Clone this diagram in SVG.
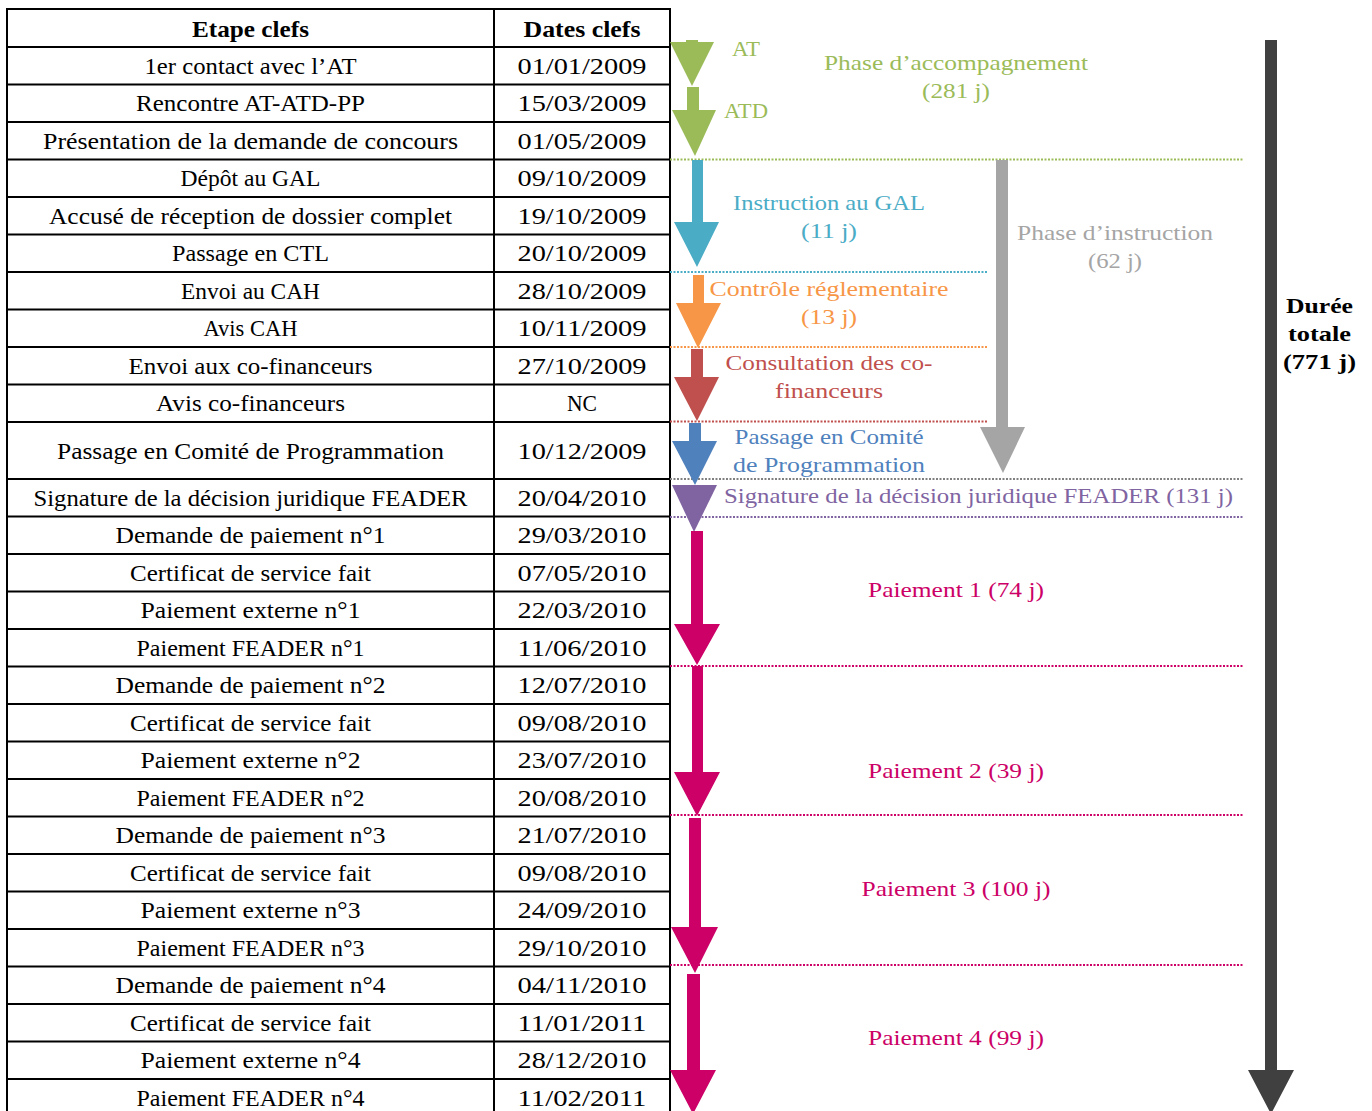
<svg xmlns="http://www.w3.org/2000/svg" width="1372" height="1111" viewBox="0 0 1372 1111">
<style>
.t{font-family:"Liberation Serif",serif;font-size:24px;fill:#000;text-anchor:middle}
.b{font-weight:bold}
.l{font-family:"Liberation Serif",serif;font-size:22px;text-anchor:middle}
.grid{stroke:#000;stroke-width:2;fill:none}
.dot{stroke-width:2;stroke-dasharray:2 1.5;fill:none}
</style>
<rect width="1372" height="1111" fill="#fff"/>
<g id="table">
<path class="grid" d="M7 9V1111M494 9V1111M670 9V1111M6 9H671M6 47H671M6 84.5H671M6 122H671M6 159.5H671M6 197H671M6 234.5H671M6 272H671M6 309.5H671M6 347H671M6 384.5H671M6 422H671M6 479H671M6 516.5H671M6 554H671M6 591.5H671M6 629H671M6 666.5H671M6 704H671M6 741.5H671M6 779H671M6 816.5H671M6 854H671M6 891.5H671M6 929H671M6 966.5H671M6 1004H671M6 1041.5H671M6 1079H671"/>
<text class="t b" x="250.5" y="37" textLength="117" lengthAdjust="spacingAndGlyphs">Etape clefs</text>
<text class="t b" x="582" y="37" textLength="117" lengthAdjust="spacingAndGlyphs">Dates clefs</text>
<g lengthAdjust="spacingAndGlyphs">
<text class="t" x="250.5" y="74" textLength="212" lengthAdjust="spacingAndGlyphs">1er contact avec l’AT</text>
<text class="t" x="250.5" y="111" textLength="229" lengthAdjust="spacingAndGlyphs">Rencontre AT-ATD-PP</text>
<text class="t" x="250.5" y="149" textLength="415" lengthAdjust="spacingAndGlyphs">Présentation de la demande de concours</text>
<text class="t" x="250.5" y="186" textLength="140" lengthAdjust="spacingAndGlyphs">Dépôt au GAL</text>
<text class="t" x="250.5" y="224" textLength="403" lengthAdjust="spacingAndGlyphs">Accusé de réception de dossier complet</text>
<text class="t" x="250.5" y="261" textLength="157" lengthAdjust="spacingAndGlyphs">Passage en CTL</text>
<text class="t" x="250.5" y="299" textLength="139" lengthAdjust="spacingAndGlyphs">Envoi au CAH</text>
<text class="t" x="250.5" y="336" textLength="94" lengthAdjust="spacingAndGlyphs">Avis CAH</text>
<text class="t" x="250.5" y="374" textLength="244" lengthAdjust="spacingAndGlyphs">Envoi aux co-financeurs</text>
<text class="t" x="250.5" y="411" textLength="189" lengthAdjust="spacingAndGlyphs">Avis co-financeurs</text>
<text class="t" x="250.5" y="458.5" textLength="387" lengthAdjust="spacingAndGlyphs">Passage en Comité de Programmation</text>
<text class="t" x="250.5" y="506" textLength="434" lengthAdjust="spacingAndGlyphs">Signature de la décision juridique FEADER</text>
<text class="t" x="250.5" y="543" textLength="270" lengthAdjust="spacingAndGlyphs">Demande de paiement n°1</text>
<text class="t" x="250.5" y="581" textLength="241" lengthAdjust="spacingAndGlyphs">Certificat de service fait</text>
<text class="t" x="250.5" y="618" textLength="220" lengthAdjust="spacingAndGlyphs">Paiement externe n°1</text>
<text class="t" x="250.5" y="656" textLength="228" lengthAdjust="spacingAndGlyphs">Paiement FEADER n°1</text>
<text class="t" x="250.5" y="693" textLength="270" lengthAdjust="spacingAndGlyphs">Demande de paiement n°2</text>
<text class="t" x="250.5" y="731" textLength="241" lengthAdjust="spacingAndGlyphs">Certificat de service fait</text>
<text class="t" x="250.5" y="768" textLength="220" lengthAdjust="spacingAndGlyphs">Paiement externe n°2</text>
<text class="t" x="250.5" y="806" textLength="228" lengthAdjust="spacingAndGlyphs">Paiement FEADER n°2</text>
<text class="t" x="250.5" y="843" textLength="270" lengthAdjust="spacingAndGlyphs">Demande de paiement n°3</text>
<text class="t" x="250.5" y="881" textLength="241" lengthAdjust="spacingAndGlyphs">Certificat de service fait</text>
<text class="t" x="250.5" y="918" textLength="220" lengthAdjust="spacingAndGlyphs">Paiement externe n°3</text>
<text class="t" x="250.5" y="956" textLength="228" lengthAdjust="spacingAndGlyphs">Paiement FEADER n°3</text>
<text class="t" x="250.5" y="993" textLength="270" lengthAdjust="spacingAndGlyphs">Demande de paiement n°4</text>
<text class="t" x="250.5" y="1031" textLength="241" lengthAdjust="spacingAndGlyphs">Certificat de service fait</text>
<text class="t" x="250.5" y="1068" textLength="220" lengthAdjust="spacingAndGlyphs">Paiement externe n°4</text>
<text class="t" x="250.5" y="1106" textLength="228" lengthAdjust="spacingAndGlyphs">Paiement FEADER n°4</text>
</g>
<g>
<text class="t" x="582" y="74" textLength="129" lengthAdjust="spacingAndGlyphs">01/01/2009</text>
<text class="t" x="582" y="111" textLength="129" lengthAdjust="spacingAndGlyphs">15/03/2009</text>
<text class="t" x="582" y="149" textLength="129" lengthAdjust="spacingAndGlyphs">01/05/2009</text>
<text class="t" x="582" y="186" textLength="129" lengthAdjust="spacingAndGlyphs">09/10/2009</text>
<text class="t" x="582" y="224" textLength="129" lengthAdjust="spacingAndGlyphs">19/10/2009</text>
<text class="t" x="582" y="261" textLength="129" lengthAdjust="spacingAndGlyphs">20/10/2009</text>
<text class="t" x="582" y="299" textLength="129" lengthAdjust="spacingAndGlyphs">28/10/2009</text>
<text class="t" x="582" y="336" textLength="129" lengthAdjust="spacingAndGlyphs">10/11/2009</text>
<text class="t" x="582" y="374" textLength="129" lengthAdjust="spacingAndGlyphs">27/10/2009</text>
<text class="t" x="582" y="411" textLength="30" lengthAdjust="spacingAndGlyphs">NC</text>
<text class="t" x="582" y="458.5" textLength="129" lengthAdjust="spacingAndGlyphs">10/12/2009</text>
<text class="t" x="582" y="506" textLength="129" lengthAdjust="spacingAndGlyphs">20/04/2010</text>
<text class="t" x="582" y="543" textLength="129" lengthAdjust="spacingAndGlyphs">29/03/2010</text>
<text class="t" x="582" y="581" textLength="129" lengthAdjust="spacingAndGlyphs">07/05/2010</text>
<text class="t" x="582" y="618" textLength="129" lengthAdjust="spacingAndGlyphs">22/03/2010</text>
<text class="t" x="582" y="656" textLength="129" lengthAdjust="spacingAndGlyphs">11/06/2010</text>
<text class="t" x="582" y="693" textLength="129" lengthAdjust="spacingAndGlyphs">12/07/2010</text>
<text class="t" x="582" y="731" textLength="129" lengthAdjust="spacingAndGlyphs">09/08/2010</text>
<text class="t" x="582" y="768" textLength="129" lengthAdjust="spacingAndGlyphs">23/07/2010</text>
<text class="t" x="582" y="806" textLength="129" lengthAdjust="spacingAndGlyphs">20/08/2010</text>
<text class="t" x="582" y="843" textLength="129" lengthAdjust="spacingAndGlyphs">21/07/2010</text>
<text class="t" x="582" y="881" textLength="129" lengthAdjust="spacingAndGlyphs">09/08/2010</text>
<text class="t" x="582" y="918" textLength="129" lengthAdjust="spacingAndGlyphs">24/09/2010</text>
<text class="t" x="582" y="956" textLength="129" lengthAdjust="spacingAndGlyphs">29/10/2010</text>
<text class="t" x="582" y="993" textLength="129" lengthAdjust="spacingAndGlyphs">04/11/2010</text>
<text class="t" x="582" y="1031" textLength="129" lengthAdjust="spacingAndGlyphs">11/01/2011</text>
<text class="t" x="582" y="1068" textLength="129" lengthAdjust="spacingAndGlyphs">28/12/2010</text>
<text class="t" x="582" y="1106" textLength="129" lengthAdjust="spacingAndGlyphs">11/02/2011</text>
</g>
</g>
<g id="connectors">
<path class="dot" stroke="#9BBB59" d="M670 159.5H1243"/>
<path class="dot" stroke="#4BACC6" d="M670 272H987"/>
<path class="dot" stroke="#F79646" d="M670 347H987"/>
<path class="dot" stroke="#C0504D" d="M670 421.5H987"/>
<path class="dot" stroke="#808080" d="M670 479H1243"/>
<path class="dot" stroke="#8064A2" d="M670 517H1243"/>
<path class="dot" stroke="#CC0066" d="M670 666H1243M670 815H1243M670 965H1243"/>
</g>
<g id="arrow-at" fill="#9BBB59"><polygon points="686,40 698,40 698,42 714,42 692,86 670,42 686,42"/><text class="l" x="746" y="56" textLength="28" lengthAdjust="spacingAndGlyphs">AT</text></g>
<g id="arrow-atd" fill="#9BBB59"><polygon points="687,87 699,87 699,110 716,110 695,156 672,110 687,110"/><text class="l" x="746" y="118" textLength="44" lengthAdjust="spacingAndGlyphs">ATD</text></g>
<g id="phase-accompagnement" fill="#9BBB59"><text class="l" x="956" y="70" textLength="264" lengthAdjust="spacingAndGlyphs">Phase d’accompagnement</text><text class="l" x="956" y="98" textLength="68" lengthAdjust="spacingAndGlyphs">(281 j)</text></g>
<g id="arrow-gal" fill="#4BACC6"><polygon points="692,160 703,160 703,222 719,222 697,267 674,222 692,222"/><text class="l" x="829" y="210" textLength="192" lengthAdjust="spacingAndGlyphs">Instruction au GAL</text><text class="l" x="829" y="238" textLength="56" lengthAdjust="spacingAndGlyphs">(11 j)</text></g>
<g id="arrow-controle" fill="#F79646"><polygon points="693,275 704,275 704,303 721,303 698,348 676,303 693,303"/><text class="l" x="829" y="296" textLength="239" lengthAdjust="spacingAndGlyphs">Contrôle réglementaire</text><text class="l" x="829" y="324" textLength="56" lengthAdjust="spacingAndGlyphs">(13 j)</text></g>
<g id="arrow-consultation" fill="#C0504D"><polygon points="691,349 703,349 703,377 719,377 697,421 674,377 691,377"/><text class="l" x="829" y="370" textLength="207" lengthAdjust="spacingAndGlyphs">Consultation des co-</text><text class="l" x="829" y="398" textLength="108" lengthAdjust="spacingAndGlyphs">financeurs</text></g>
<g id="arrow-comite" fill="#4F81BD"><polygon points="689,423 701,423 701,441 717,441 695,485 672,441 689,441"/><text class="l" x="829" y="444" textLength="189" lengthAdjust="spacingAndGlyphs">Passage en Comité</text><text class="l" x="829" y="472" textLength="192" lengthAdjust="spacingAndGlyphs">de Programmation</text></g>
<g id="arrow-signature" fill="#8064A2"><polygon points="672,485 717,485 694,532"/><text class="l" x="978.5" y="503" textLength="509" lengthAdjust="spacingAndGlyphs">Signature de la décision juridique FEADER (131 j)</text></g>
<g id="arrow-instruction" fill="#A5A5A5"><polygon points="996,160 1008,160 1008,427 1025,427 1003,473 980,427 996,427"/><text class="l" x="1115" y="240" textLength="196" lengthAdjust="spacingAndGlyphs">Phase d’instruction</text><text class="l" x="1115" y="268" textLength="54" lengthAdjust="spacingAndGlyphs">(62 j)</text></g>
<g id="arrow-paiement1" fill="#CC0066"><polygon points="691,531 703,531 703,624 720,624 697,665 674,624 691,624"/><text class="l" x="956" y="597" textLength="176" lengthAdjust="spacingAndGlyphs">Paiement 1 (74 j)</text></g>
<g id="arrow-paiement2" fill="#CC0066"><polygon points="692,666 703,666 703,772 720,772 697,816 674,772 692,772"/><text class="l" x="956" y="778" textLength="176" lengthAdjust="spacingAndGlyphs">Paiement 2 (39 j)</text></g>
<g id="arrow-paiement3" fill="#CC0066"><polygon points="689,818 701,818 701,927 718,927 695,973 671,927 689,927"/><text class="l" x="956" y="896" textLength="189" lengthAdjust="spacingAndGlyphs">Paiement 3 (100 j)</text></g>
<g id="arrow-paiement4" fill="#CC0066"><polygon points="687,974 700,974 700,1070 716,1070 693,1114 670,1070 687,1070"/><text class="l" x="956" y="1045" textLength="176" lengthAdjust="spacingAndGlyphs">Paiement 4 (99 j)</text></g>
<g id="arrow-total"><polygon fill="#404040" points="1265,40 1277,40 1277,1070 1294,1070 1271,1114 1248,1070 1265,1070"/><text class="l b" fill="#000" x="1319.5" y="313" textLength="67" lengthAdjust="spacingAndGlyphs">Durée</text><text class="l b" fill="#000" x="1319.5" y="341" textLength="63" lengthAdjust="spacingAndGlyphs">totale</text><text class="l b" fill="#000" x="1319.5" y="369" textLength="73" lengthAdjust="spacingAndGlyphs">(771 j)</text></g>
</svg>
